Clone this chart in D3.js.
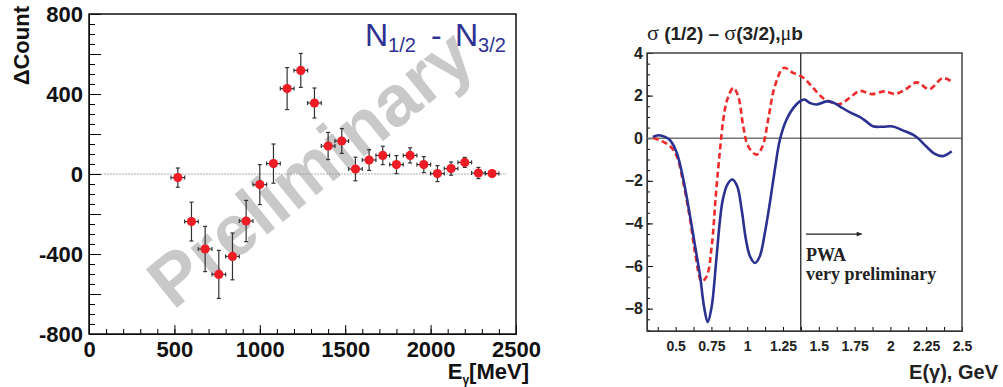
<!DOCTYPE html>
<html>
<head>
<meta charset="utf-8">
<script src="https://cdn.jsdelivr.net/npm/d3@7"></script>
<style>
  body { margin: 0; background: #fff; }
  text { font-family: "Liberation Sans", Arial, sans-serif; }
</style>
</head>
<body>
<div id="chart-div"></div>
<script>
// Script globals
const CHART_WIDTH = 1003
const CHART_HEIGHT = 387

// left panel: asymmetry counts vs photon energy
const energies = [520, 600, 680, 760, 840, 920, 1000, 1080, 1160, 1240, 1320, 1400,
                  1480, 1560, 1640, 1720, 1800, 1880, 1960, 2040, 2120, 2200, 2280, 2360]
const deltaCount = [-18, -238, -375, -502, -412, -235, -53, 52, 427, 518, 355, 140,
                     165, 25, 70, 93, 47, 93, 47, 2, 27, 58, 5, 2]
const countErr = [48, 97, 113, 120, 117, 103, 100, 98, 105, 85, 75, 68,
                  62, 59, 52, 46, 45, 38, 40, 40, 33, 25, 28, 10]
const energyErr = 40
const leftYLabels = [-800, -400, 0, 400, 800]
const leftXLabels = [0, 500, 1000, 1500, 2000, 2500]

// right panel: PWA cross section difference, [E GeV, sigma]
const blueCurve = [
  [0.341, 0.06], [0.38, 0.14], [0.43, 0.05], [0.462, -0.1], [0.508, -0.69], [0.554, -1.94],
  [0.601, -3.67], [0.636, -5.07], [0.671, -6.48], [0.698, -7.89], [0.724, -8.63],
  [0.752, -7.89], [0.782, -5.86], [0.81, -3.82], [0.829, -2.9], [0.861, -2.18],
  [0.896, -1.94], [0.93, -2.26], [0.961, -3.35], [0.991, -4.76], [1.019, -5.54],
  [1.054, -5.86], [1.088, -5.54], [1.123, -4.45], [1.158, -3.04], [1.193, -1.47],
  [1.228, -0.07], [1.274, 0.87], [1.32, 1.4], [1.367, 1.73], [1.4, 1.82],
  [1.437, 1.66], [1.483, 1.58], [1.553, 1.73], [1.599, 1.68], [1.646, 1.5],
  [1.715, 1.22], [1.785, 1.0], [1.831, 0.79], [1.877, 0.56], [1.947, 0.54],
  [2.017, 0.55], [2.086, 0.37], [2.175, 0.09], [2.249, -0.38], [2.307, -0.72],
  [2.365, -0.84], [2.428, -0.61]
]
const redCurve = [
  [0.341, 0.01], [0.392, -0.1], [0.462, -0.38], [0.508, -0.85], [0.554, -2.1],
  [0.601, -3.82], [0.636, -5.38], [0.682, -6.72], [0.717, -6.48], [0.752, -5.07],
  [0.782, -2.57], [0.81, -0.54], [0.833, 0.87], [0.86, 1.8], [0.903, 2.36],
  [0.937, 1.97], [0.972, 0.56], [1.007, -0.38], [1.065, -0.77], [1.107, -0.38],
  [1.146, 0.87], [1.193, 2.44], [1.255, 3.3], [1.32, 3.07], [1.39, 2.85],
  [1.46, 2.36], [1.529, 1.89], [1.599, 1.66], [1.646, 1.6], [1.715, 1.89],
  [1.785, 2.22], [1.871, 2.07], [1.959, 2.2], [2.035, 2.08], [2.11, 2.31],
  [2.185, 2.62], [2.272, 2.3], [2.365, 2.82], [2.428, 2.66]
]
const rightYLabels = [-8, -6, -4, -2, 0, 2, 4]
const rightXLabels = [0.5, 0.75, 1, 1.25, 1.5, 1.75, 2, 2.25, 2.5]
const pwaStart = 1.374

init();

function init () {
  let svg = d3.select("#chart-div").append("svg")
    .attr("width", CHART_WIDTH)
    .attr("height", CHART_HEIGHT)
  drawLeft(svg)
  drawRight(svg)
}

function drawLeft (svg) {
  const x = d3.scaleLinear().domain([0, 2500]).range([89, 516])
  const y = d3.scaleLinear().domain([-800, 800]).range([334, 14])

  // watermark
  svg.append("text")
    .attr("transform", "translate(310,168) rotate(-39)")
    .attr("text-anchor", "middle")
    .attr("dominant-baseline", "central")
    .style("font-size", "72px")
    .style("font-weight", "bold")
    .attr("fill", "#c9c9c9")
    .text("Preliminary")

  // zero line
  svg.append("line")
    .attr("x1", x(0)).attr("x2", x(2445))
    .attr("y1", y(0)).attr("y2", y(0))
    .attr("stroke", "#999").attr("stroke-width", 0.8)
    .attr("stroke-dasharray", "2,1")

  // axes: minor then major
  svg.append("g").attr("transform", `translate(${x(0)},0)`)
    .call(d3.axisLeft(y).tickValues(d3.range(-800, 801, 50)).tickSize(-6).tickFormat(""))
  svg.append("g").attr("class", "yAxis").attr("transform", `translate(${x(0)},0)`)
    .call(d3.axisLeft(y).tickValues(d3.range(-800, 801, 200)).tickSize(-12).tickPadding(6)
      .tickFormat(d => leftYLabels.includes(d) ? String(d).replace("\u2212", "-") : ""))
  svg.append("g").attr("transform", `translate(0,${y(-800)})`)
    .call(d3.axisBottom(x).tickValues(d3.range(0, 2501, 100)).tickSize(-5).tickFormat(""))
  svg.append("g").attr("class", "xAxis").attr("transform", `translate(0,${y(-800)})`)
    .call(d3.axisBottom(x).tickValues(leftXLabels).tickSize(-9).tickFormat(d => String(d)))

  svg.selectAll("g.yAxis text")
    .style("font-size", "22px").style("font-weight", "bold").attr("fill", "#111")
    .attr("dy", "0.36em")
  svg.selectAll("g.xAxis text")
    .style("font-size", "22px").style("font-weight", "bold").attr("fill", "#111")
    .attr("y", 23).attr("dy", null)
  svg.selectAll("g.yAxis .domain, g.xAxis .domain").remove()

  // frame
  svg.append("rect")
    .attr("x", x(0)).attr("y", y(800))
    .attr("width", x(2500) - x(0)).attr("height", y(-800) - y(800))
    .attr("fill", "none").attr("stroke", "#111").attr("stroke-width", 1.5)

  // error bars
  const pts = energies.map((e, i) => ({ e: e, v: deltaCount[i], err: countErr[i] }))
  const bars = svg.append("g").attr("stroke", "#333").attr("stroke-width", 1.2)
  pts.forEach(d => {
    bars.append("line").attr("x1", x(d.e)).attr("x2", x(d.e))
      .attr("y1", y(d.v - d.err)).attr("y2", y(d.v + d.err))
    bars.append("line").attr("x1", x(d.e) - 2).attr("x2", x(d.e) + 2)
      .attr("y1", y(d.v - d.err)).attr("y2", y(d.v - d.err))
    bars.append("line").attr("x1", x(d.e) - 2).attr("x2", x(d.e) + 2)
      .attr("y1", y(d.v + d.err)).attr("y2", y(d.v + d.err))
    bars.append("line").attr("x1", x(d.e - energyErr)).attr("x2", x(d.e + energyErr))
      .attr("y1", y(d.v)).attr("y2", y(d.v))
    bars.append("line").attr("x1", x(d.e - energyErr)).attr("x2", x(d.e - energyErr))
      .attr("y1", y(d.v) - 2).attr("y2", y(d.v) + 2)
    bars.append("line").attr("x1", x(d.e + energyErr)).attr("x2", x(d.e + energyErr))
      .attr("y1", y(d.v) - 2).attr("y2", y(d.v) + 2)
  })

  svg.append("g").selectAll("circle")
    .data(pts)
    .enter().append("circle")
      .attr("cx", d => x(d.e))
      .attr("cy", d => y(d.v))
      .attr("r", 4.6)
      .attr("fill", "#ee1c25")

  // titles
  svg.append("text")
    .attr("transform", "translate(29,6) rotate(-90)")
    .attr("text-anchor", "end")
    .style("font-size", "22px").style("font-weight", "bold").attr("fill", "#111")
    .text("\u0394Count")

  let xt = svg.append("text")
    .attr("x", 529).attr("y", 379).attr("text-anchor", "end")
    .style("font-size", "22px").style("font-weight", "bold").attr("fill", "#111")
  xt.append("tspan").text("E")
  xt.append("tspan").attr("dy", 5).style("font-size", "12px").text("\u03b3")
  xt.append("tspan").attr("dy", -5).text("[MeV]")

  // legend-like label
  let nt = svg.append("text")
    .attr("x", 365).attr("y", 46)
    .attr("fill", "#2e3192")
    .style("font-size", "32px")
  nt.append("tspan").text("N")
  nt.append("tspan").attr("dy", 6).style("font-size", "20px").text("1/2")
  nt.append("tspan").attr("dy", -6).attr("x", 431).text("-")
  nt.append("tspan").attr("x", 455).text("N")
  nt.append("tspan").attr("dy", 6).style("font-size", "20px").text("3/2")
}

function drawRight (svg) {
  const x = d3.scaleLinear().domain([0.3, 2.5]).range([647, 962])
  const y = d3.scaleLinear().domain([-9.05, 4]).range([331, 53])

  const gy = svg.append("g").attr("transform", `translate(${x(0.3)},0)`)
  gy.call(d3.axisLeft(y).tickValues(d3.range(-9, 4.01, 0.5)).tickSize(-3).tickFormat(""))
  const gyl = svg.append("g").attr("class", "ryAxis").attr("transform", `translate(${x(0.3)},0)`)
  gyl.call(d3.axisLeft(y).tickValues(rightYLabels).tickSize(-6).tickPadding(4))
  const gx = svg.append("g").attr("transform", `translate(0,${y(-9.05)})`)
  gx.call(d3.axisBottom(x).tickValues(d3.range(0.375, 2.5, 0.125)).tickSize(-4).tickFormat(""))
  const gxl = svg.append("g").attr("class", "rxAxis").attr("transform", `translate(0,${y(-9.05)})`)
  gxl.call(d3.axisBottom(x).tickValues(rightXLabels).tickSize(0).tickFormat(d => String(d)))

  svg.selectAll("g.ryAxis text")
    .style("font-size", "16px").style("font-weight", "bold").attr("fill", "#222")
  svg.selectAll("g.rxAxis text")
    .style("font-size", "14px").style("font-weight", "bold").attr("fill", "#222")
    .attr("y", 20).attr("dy", null)
  svg.selectAll("g.ryAxis .domain, g.rxAxis .domain").remove()

  svg.append("defs").append("clipPath").attr("id", "rclip")
    .append("rect").attr("x", x(0.3)).attr("y", y(4))
    .attr("width", x(2.5) - x(0.3)).attr("height", y(-9.05) - y(4))

  // zero line
  svg.append("line")
    .attr("x1", x(0.3)).attr("x2", x(2.5))
    .attr("y1", y(0)).attr("y2", y(0))
    .attr("stroke", "#777").attr("stroke-width", 1.5)

  // PWA boundary
  svg.append("line")
    .attr("x1", x(pwaStart)).attr("x2", x(pwaStart))
    .attr("y1", y(4)).attr("y2", y(-9.05))
    .attr("stroke", "#111").attr("stroke-width", 1.2)

  const line = d3.line()
    .x(d => x(d[0]))
    .y(d => y(d[1]))
    .curve(d3.curveCatmullRom.alpha(0.5))

  svg.append("path")
    .datum(redCurve)
    .attr("clip-path", "url(#rclip)")
    .attr("d", line)
    .attr("fill", "none")
    .attr("stroke", "#ee2a2a")
    .attr("stroke-width", 2.6)
    .attr("stroke-dasharray", "6,3.5")

  svg.append("path")
    .datum(blueCurve)
    .attr("clip-path", "url(#rclip)")
    .attr("d", line)
    .attr("fill", "none")
    .attr("stroke", "#2b3190")
    .attr("stroke-width", 2.6)

  // frame
  svg.append("rect")
    .attr("x", x(0.3)).attr("y", y(4))
    .attr("width", x(2.5) - x(0.3)).attr("height", y(-9.05) - y(4))
    .attr("fill", "none").attr("stroke", "#444").attr("stroke-width", 1.5)

  // arrow
  svg.append("defs").append("marker")
    .attr("id", "arrowhead")
    .attr("viewBox", "0 0 10 10").attr("refX", 10).attr("refY", 5)
    .attr("markerWidth", 9).attr("markerHeight", 5).attr("markerUnits", "userSpaceOnUse")
    .attr("orient", "auto")
    .append("path").attr("d", "M0,0 L10,5 L0,10 z").attr("fill", "#222")
  svg.append("line")
    .attr("x1", x(1.41)).attr("x2", x(1.8))
    .attr("y1", y(-4.5)).attr("y2", y(-4.5))
    .attr("stroke", "#222").attr("stroke-width", 1.2)
    .attr("marker-end", "url(#arrowhead)")

  svg.append("text")
    .attr("x", 806).attr("y", 261)
    .style("font-family", "'Liberation Serif', 'Times New Roman', serif")
    .style("font-size", "18px").style("font-weight", "bold").attr("fill", "#222")
    .text("PWA")
  svg.append("text")
    .attr("x", 806).attr("y", 280)
    .style("font-family", "'Liberation Serif', 'Times New Roman', serif")
    .style("font-size", "18px").style("font-weight", "bold").attr("fill", "#222")
    .text("very preliminary")

  // titles
  let tt = svg.append("text")
    .attr("x", 647).attr("y", 40)
    .style("font-size", "19px").style("font-weight", "bold").attr("fill", "#222")
  tt.append("tspan").style("font-family", "'Liberation Serif', serif").style("font-weight", "normal")
    .style("font-size", "22px").text("\u03c3")
  tt.append("tspan").text(" (1/2) \u2013 ")
  tt.append("tspan").style("font-family", "'Liberation Serif', serif").style("font-weight", "normal")
    .style("font-size", "22px").text("\u03c3")
  tt.append("tspan").text("(3/2),")
  tt.append("tspan").style("font-family", "'Liberation Serif', serif").style("font-weight", "normal")
    .style("font-size", "20px").text("\u03bc")
  tt.append("tspan").text("b")

  svg.append("text")
    .attr("x", 998).attr("y", 379).attr("text-anchor", "end")
    .style("font-size", "20px").style("font-weight", "bold").attr("fill", "#222")
    .text("E(\u03b3), GeV")
}
</script>
</body>
</html>
